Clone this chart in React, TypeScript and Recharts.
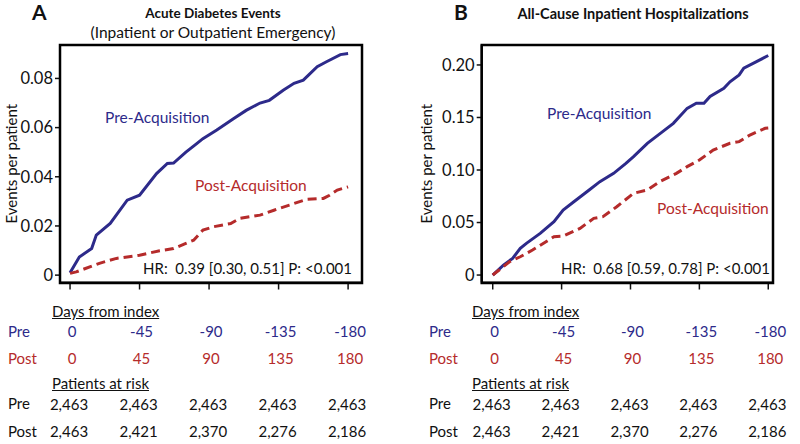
import React from 'react';
import { LineChart, Line, XAxis, YAxis } from 'recharts';

// cumulative events per patient: [day, value]
const preA = [
  [0, 0.001], [6, 0.0074], [14, 0.0108], [17, 0.0163], [26, 0.021], [37, 0.0305], [45, 0.0325],
  [56, 0.0413], [63, 0.0454], [67, 0.0456], [75, 0.05], [82, 0.0535], [86, 0.0555], [95, 0.059],
  [106, 0.0637], [114, 0.067], [123, 0.07], [129, 0.0711], [138, 0.0752], [145, 0.078],
  [151, 0.0793], [160, 0.0848], [166, 0.0868], [175, 0.0897], [180, 0.0901],
];
const postA = [
  [0, 0.0007], [4, 0.0013], [19, 0.0048], [30, 0.0068], [37, 0.0074], [45, 0.0081], [58, 0.0099],
  [67, 0.0108], [75, 0.0129], [80, 0.0142], [86, 0.0183], [93, 0.0197], [104, 0.021], [110, 0.0231],
  [123, 0.0244], [132, 0.0264], [142, 0.0285], [153, 0.0308], [164, 0.0312], [168, 0.0325],
  [173, 0.0346], [180, 0.0359],
];
const preB = [
  [0, 0], [7, 0.0095], [13, 0.0159], [18, 0.0254], [22, 0.0302], [31, 0.0397], [40, 0.0508],
  [46, 0.0619], [53, 0.0698], [63, 0.081], [70, 0.0889], [79, 0.0968], [87, 0.1063], [92, 0.1127],
  [101, 0.1254], [111, 0.1365], [118, 0.1444], [127, 0.1587], [133, 0.1635], [138, 0.1635],
  [142, 0.17], [151, 0.1778], [155, 0.184], [161, 0.1905], [164, 0.197], [172, 0.203], [180, 0.209],
];
const postB = [
  [0, 0], [11, 0.0127], [18, 0.0174], [26, 0.0238], [40, 0.0365], [46, 0.037], [57, 0.0444],
  [66, 0.054], [72, 0.0556], [81, 0.065], [92, 0.0778], [101, 0.081], [109, 0.0889], [120, 0.0968],
  [127, 0.1032], [135, 0.1095], [144, 0.119], [155, 0.1254], [161, 0.127], [168, 0.1333],
  [178, 0.1397], [180, 0.14],
];

const dayTicks = [0, 45, 90, 135, 180];
const preDayLabels = ['0', '-45', '-90', '-135', '-180'];
const postDayLabels = ['0', '45', '90', '135', '180'];
const preAtRisk = ['2,463', '2,463', '2,463', '2,463', '2,463'];
const postAtRisk = ['2,463', '2,421', '2,370', '2,276', '2,186'];

const yTicksA = [0, 0.02, 0.04, 0.06, 0.08];
const yTicksB = [0, 0.05, 0.1, 0.15, 0.2];

const BLUE = '#2d2a8a';
const RED = '#b52b2b';
const INK = '#111111';

const toRows = (pts: number[][]) => pts.map(([day, v]) => ({ day, v }));

// the at-risk table hangs off the x ticks so it lines up with the scale
function TableTick(props: any) {
  const { x, y, payload } = props;
  const i = dayTicks.indexOf(payload.value);
  return (
    <g fontSize={15}>
      <text x={x + 2} y={y + 41} textAnchor="middle" dominantBaseline="central" fill={BLUE}>{preDayLabels[i]}</text>
      <text x={x + 2} y={y + 68.5} textAnchor="middle" dominantBaseline="central" fill={RED}>{postDayLabels[i]}</text>
      <text x={x - 1} y={y + 114} textAnchor="middle" dominantBaseline="central" fill={INK}>{preAtRisk[i]}</text>
      <text x={x - 1} y={y + 141} textAnchor="middle" dominantBaseline="central" fill={INK}>{postAtRisk[i]}</text>
    </g>
  );
}

function Note({ left, right, cy, color = INK, size = 15, bold = false, underline = false, center = false, children }: any) {
  const style: React.CSSProperties = {
    position: 'absolute',
    top: cy - 12,
    height: 24,
    lineHeight: '24px',
    whiteSpace: 'nowrap',
    color,
    fontSize: size,
    fontWeight: bold ? 700 : 400,
    textDecoration: underline ? 'underline' : 'none',
  };
  if (center) {
    style.left = left - 200;
    style.width = 400;
    style.textAlign = 'center';
  } else if (right !== undefined) {
    style.right = 800 - right;
  } else {
    style.left = left;
  }
  return <div style={style}>{children}</div>;
}

function Panel({ pre, post, xDomain, yDomain, yTicks, yWidth, marginRight, labelX }: any) {
  const axisStroke = { stroke: INK, strokeWidth: 2 };
  return (
    <LineChart width={400} height={444} margin={{ top: 45, right: marginRight, left: 0, bottom: 0 }}>
      <XAxis
        type="number"
        dataKey="day"
        domain={xDomain}
        ticks={dayTicks}
        allowDataOverflow
        height={161.5}
        axisLine={axisStroke}
        tickLine={{ stroke: INK, strokeWidth: 1.5 }}
        tickSize={7}
        tickMargin={0}
        tick={<TableTick />}
        interval={0}
      />
      <YAxis
        type="number"
        domain={yDomain}
        ticks={yTicks}
        allowDataOverflow
        width={yWidth}
        axisLine={axisStroke}
        tickLine={{ stroke: INK, strokeWidth: 1.5 }}
        tickSize={5}
        tickMargin={2}
        tick={{ fill: INK, fontSize: 16.5 }}
        tickFormatter={(v: number) => (v === 0 ? '0' : v.toFixed(2))}
        label={{ value: 'Events per patient', angle: -90, position: 'insideLeft', offset: labelX, style: { textAnchor: 'middle', fill: INK, fontSize: 15 } }}
      />
      <Line data={toRows(pre)} dataKey="v" type="linear" stroke={BLUE} strokeWidth={3} dot={false} isAnimationActive={false} />
      <Line data={toRows(post)} dataKey="v" type="linear" stroke={RED} strokeWidth={3} strokeDasharray="9 5" dot={false} isAnimationActive={false} />
    </LineChart>
  );
}

export default function App() {
  return (
    <div style={{ position: 'absolute', left: 0, top: 0, width: 800, height: 444, background: '#fff', fontFamily: 'Lato, "Open Sans", sans-serif', color: INK, overflow: 'hidden' }}>
      <div style={{ position: 'absolute', left: 0, top: 0 }}>
        <Panel pre={preA} post={postA} xDomain={[-6.5, 189]} yDomain={[-0.003, 0.0936]} yTicks={yTicksA} yWidth={60} marginRight={38} labelX={12} />
      </div>
      <div style={{ position: 'absolute', left: 400, top: 0 }}>
        <Panel pre={preB} post={postB} xDomain={[-7.2, 183.1]} yDomain={[-0.0071, 0.219]} yTicks={yTicksB} yWidth={81.7} marginRight={27} labelX={27} />
      </div>

      {/* top and right edges of the two plot frames (left/bottom come from the axes) */}
      <svg width={800} height={444} style={{ position: 'absolute', left: 0, top: 0, pointerEvents: 'none' }}>
        <rect x={60} y={45} width={302} height={238} fill="none" stroke="#000" strokeWidth={2.5} />
        <rect x={481.7} y={45} width={291.3} height={238} fill="none" stroke="#000" strokeWidth={2.5} />
      </svg>

      {/* panel A text */}
      <Note left={32} cy={12} size={21} bold>A</Note>
      <Note left={213} center cy={12.5} size={13.5} bold>Acute Diabetes Events</Note>
      <Note left={213} center cy={32} size={15.5}>(Inpatient or Outpatient Emergency)</Note>
      <Note left={105} cy={117} color={BLUE} size={15.5}>Pre-Acquisition</Note>
      <Note left={195} cy={185} color={RED} size={15.5}>Post-Acquisition</Note>
      <Note right={352} cy={268} size={15}>HR:&nbsp; 0.39 [0.30, 0.51] P: &lt;0.001</Note>
      <Note left={52} cy={310.7} underline>Days from index</Note>
      <Note left={8} cy={330.7} color={BLUE}>Pre</Note>
      <Note left={8} cy={358} color={RED}>Post</Note>
      <Note left={52} cy={383.3} underline>Patients at risk</Note>
      <Note left={8} cy={403.3}>Pre</Note>
      <Note left={8} cy={430.7}>Post</Note>

      {/* panel B text */}
      <Note left={454} cy={12} size={21} bold>B</Note>
      <Note left={633} center cy={13.5} size={14.5} bold>All-Cause Inpatient Hospitalizations</Note>
      <Note left={547} cy={113} color={BLUE} size={15.5}>Pre-Acquisition</Note>
      <Note left={657} cy={208} color={RED} size={15.5}>Post-Acquisition</Note>
      <Note right={770} cy={268} size={15}>HR:&nbsp; 0.68 [0.59, 0.78] P: &lt;0.001</Note>
      <Note left={472} cy={310.7} underline>Days from index</Note>
      <Note left={429} cy={330.7} color={BLUE}>Pre</Note>
      <Note left={429} cy={358} color={RED}>Post</Note>
      <Note left={472} cy={383.3} underline>Patients at risk</Note>
      <Note left={429} cy={403.3}>Pre</Note>
      <Note left={429} cy={430.7}>Post</Note>
    </div>
  );
}
